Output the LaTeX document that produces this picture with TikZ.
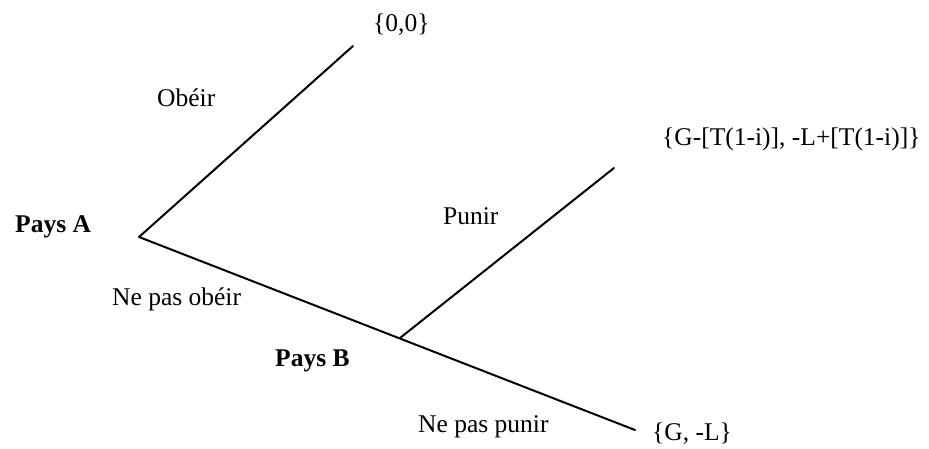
\documentclass[tikz,border=0pt]{standalone}
\usepackage{fontspec}
\setmainfont{Liberation Serif}
\begin{document}
\begin{tikzpicture}[x=1pt,y=-1pt,
  branch/.style={line width=2pt, line cap=round, line join=round},
  lbl/.style={anchor=base west, inner sep=0pt, font=\fontsize{25.5}{30}\selectfont},
  player/.style={lbl, font=\fontsize{25.5}{30}\selectfont\bfseries}]
\useasboundingbox (0,0) rectangle (929,449);

% decision nodes and terminal points of the game tree
\coordinate (A)   at (139,237);
\coordinate (B)   at (400,338);
\coordinate (obe) at (353,46);
\coordinate (pun) at (614,168);
\coordinate (npp) at (635,430);

% branches
\draw[branch] (obe) -- (A) -- (npp);
\draw[branch] (B) -- (pun);

% players
\node[player] (pA) at (15,233) {Pays A};
\node[player] (pB) at (275,366) {Pays B};

% actions
\node[lbl] (lObe)  at (157,107) {Obéir};
\node[lbl] (lNobe) at (112,305) {Ne pas obéir};
\node[lbl] (lPun)  at (443,225) {Punir};
\node[lbl] (lNpun) at (418,432) {Ne pas punir};

% payoffs
\node[lbl] (p1) at (373,32)  {\{0,0\}};
\node[lbl] (p2) at (662,146) {\{G-[T(1-i)], -L+[T(1-i)]\}};
\node[lbl] (p3) at (652,440) {\{G, -L\}};
\end{tikzpicture}
\end{document}
